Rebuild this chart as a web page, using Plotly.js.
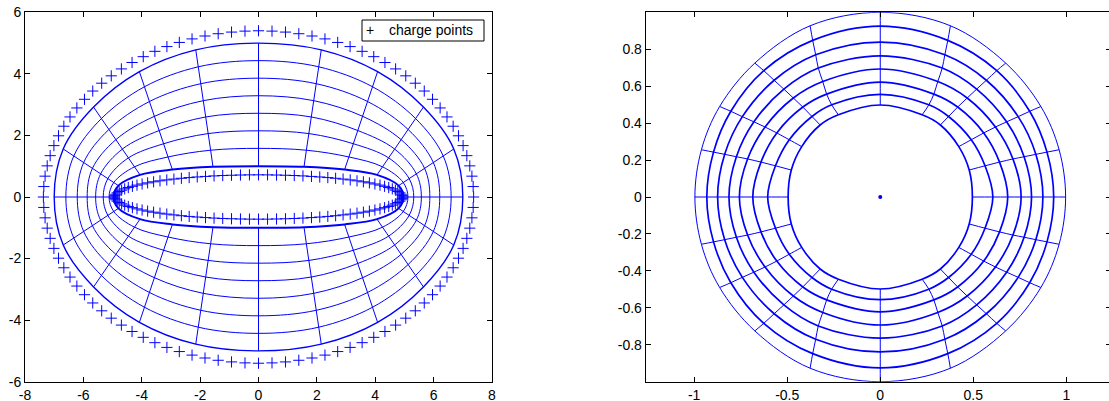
<!DOCTYPE html>
<html><head><meta charset="utf-8">
<script src="https://cdn.plot.ly/plotly-3.0.1.min.js"></script>
<style>html,body{margin:0;padding:0;background:#fff;overflow:hidden}#chart{width:1111px;height:401px}</style>
</head><body><div id="chart"></div>
<script>
// ---------- data (first quadrant; figure is symmetric in x and y) ----------
// Left panel grid nodes: rows = level curves (outer boundary -> inner boundary),
// columns = rays (on +x axis -> on +y axis)
const leftNodes = [
  [[7.00,0],[6.69,1.56],[5.65,2.92],[4.08,4.07],[2.15,4.78],[0,5.00]],
  [[6.60,0],[6.33,1.33],[5.38,2.55],[3.91,3.58],[2.06,4.23],[0,4.43]],
  [[6.21,0],[5.99,1.12],[5.13,2.19],[3.74,3.10],[1.98,3.68],[0,3.86]],
  [[5.87,0],[5.69,0.93],[4.89,1.86],[3.57,2.62],[1.89,3.13],[0,3.29]],
  [[5.58,0],[5.41,0.75],[4.66,1.56],[3.40,2.16],[1.81,2.60],[0,2.72]],
  [[5.32,0],[5.16,0.60],[4.46,1.27],[3.25,1.73],[1.73,2.06],[0,2.15]],
  [[5.12,0],[4.96,0.47],[4.25,0.98],[3.10,1.30],[1.64,1.52],[0,1.58]],
  [[4.97,0],[4.80,0.37],[4.06,0.72],[2.95,0.89],[1.56,0.98],[0,1.00]]
];
// Right panel grid nodes (image of the left grid), same row/column order
const rightNodes = [
  [[0.996,0],[0.961,0.256],[0.863,0.490],[0.674,0.725],[0.377,0.927],[0,1.000]],
  [[0.932,0],[0.896,0.243],[0.803,0.464],[0.626,0.684],[0.363,0.848],[0,0.925]],
  [[0.874,0],[0.836,0.231],[0.741,0.435],[0.570,0.632],[0.347,0.770],[0,0.839]],
  [[0.813,0],[0.773,0.218],[0.679,0.407],[0.518,0.584],[0.333,0.698],[0,0.764]],
  [[0.757,0],[0.713,0.206],[0.619,0.379],[0.467,0.536],[0.309,0.625],[0,0.693]],
  [[0.685,0],[0.641,0.189],[0.556,0.347],[0.416,0.487],[0.288,0.557],[0,0.622]],
  [[0.605,0],[0.563,0.169],[0.489,0.310],[0.367,0.436],[0.261,0.499],[0,0.556]],
  [[0.495,0],[0.478,0.146],[0.422,0.273],[0.323,0.390],[0.225,0.445],[0,0.498]]
];
// Charge points (first quadrant, from +x axis to +y axis)
const chargeOuterX = [7.37,7.355,7.312,7.239,7.138,7.009,6.852,6.669,6.458,6.223,5.962,5.679,5.372,5.045,4.698,4.332,3.949,3.550,3.138,2.713,2.277,1.833,1.381,0.924,0.463,0];
const chargeOuterY = [0,0.339,0.677,1.012,1.343,1.669,1.988,2.299,2.601,2.893,3.174,3.442,3.697,3.936,4.161,4.369,4.559,4.732,4.886,5.021,5.136,5.230,5.304,5.357,5.389,5.40];
const chargeInnerX = [4.93,4.920,4.891,4.843,4.775,4.689,4.584,4.461,4.320,4.163,3.988,3.799,3.594,3.375,3.142,2.898,2.642,2.375,2.099,1.815,1.523,1.226,0.924,0.618,0.310,0];
const chargeInnerY = [0,0.045,0.090,0.135,0.179,0.222,0.265,0.307,0.347,0.386,0.423,0.459,0.493,0.525,0.555,0.582,0.608,0.631,0.651,0.669,0.685,0.697,0.707,0.714,0.719,0.72];
const centerPoint = [0,0];
const legendLabel = 'charge points';
const legendSymbol = '+';
// Tick labels
const xTicksL = [-8,-6,-4,-2,0,2,4,6,8];
const xTickTextL = ['-8','-6','-4','-2','0','2','4','6','8'];
const yTicksL = [-6,-4,-2,0,2,4,6];
const yTickTextL = ['-6','-4','-2','0','2','4','6'];
const xTicksR = [-1,-0.5,0,0.5,1];
const xTickTextR = ['-1','-0.5','0','0.5','1'];
const yTicksR = [-0.8,-0.6,-0.4,-0.2,0,0.2,0.4,0.6,0.8];
const yTickTextR = ['-0.8','-0.6','-0.4','-0.2','0','0.2','0.4','0.6','0.8'];

// ---------- build traces ----------
const BLUE = '#0000ff';
function loopFromQuadrant(q){
  const pts = [];
  for (let j=q.length-1;j>=0;j--) pts.push([q[j][0], q[j][1]]);
  for (let j=1;j<q.length;j++) pts.push([q[j][0], -q[j][1]]);
  for (let j=q.length-2;j>=0;j--) pts.push([-q[j][0], -q[j][1]]);
  for (let j=1;j<q.length;j++) pts.push([-q[j][0], q[j][1]]);
  return pts;
}
function mirrorsOf(pts){
  const out = [[1,1]];
  const allX0 = pts.every(p=>p[0]===0), allY0 = pts.every(p=>p[1]===0);
  if (!allX0) out.push([-1,1]);
  if (!allY0) out.push([1,-1]);
  if (!allX0 && !allY0) out.push([-1,-1]);
  return out.map(s=>pts.map(p=>[s[0]*p[0], s[1]*p[1]]));
}
const traces = [];
function addGrid(nodes, xa, ya, levelWidth, rayShape){
  nodes.forEach((lev,i)=>{
    const pts = loopFromQuadrant(lev);
    traces.push({type:'scatter',mode:'lines',xaxis:xa,yaxis:ya,showlegend:false,hoverinfo:'skip',
      x:pts.map(p=>p[0]),y:pts.map(p=>p[1]),
      line:{color:BLUE,width:levelWidth(i),shape:'spline',smoothing:1}});
  });
  const nRays = nodes[0].length;
  for (let j=0;j<nRays;j++){
    const ray = nodes.map(lev=>lev[j]);
    mirrorsOf(ray).forEach(r=>{
      traces.push({type:'scatter',mode:'lines',xaxis:xa,yaxis:ya,showlegend:false,hoverinfo:'skip',
        x:r.map(p=>p[0]),y:r.map(p=>p[1]),line:{color:BLUE,width:1,shape:rayShape}});
    });
  }
}
addGrid(leftNodes,'x','y',i=> i===0?1.4:(i===leftNodes.length-1?2:1),'linear');
addGrid(rightNodes,'x2','y2',i=> i===0?1:1.7,'spline');

// charge points
const cx=[], cy=[];
[[chargeOuterX,chargeOuterY],[chargeInnerX,chargeInnerY]].forEach(([X,Y])=>{
  X.forEach((x,k)=>{
    const y=Y[k];
    const variants=[[x,y]];
    if (x!==0) variants.push([-x,y]);
    if (y!==0) variants.push([x,-y]);
    if (x!==0 && y!==0) variants.push([-x,-y]);
    variants.forEach(v=>{cx.push(v[0]);cy.push(v[1]);});
  });
});
traces.push({type:'scatter',mode:'markers',xaxis:'x',yaxis:'y',name:legendLabel,showlegend:false,hoverinfo:'skip',
  x:cx,y:cy,marker:{symbol:'cross-thin',size:8,color:BLUE,line:{color:BLUE,width:1}}});
traces.push({type:'scatter',mode:'markers',xaxis:'x2',yaxis:'y2',showlegend:false,hoverinfo:'skip',
  x:[centerPoint[0]],y:[centerPoint[1]],marker:{symbol:'circle',size:4,color:BLUE}});

const W=1111,H=401;
const FAM='"Liberation Sans", Arial, Helvetica, sans-serif';
const tickFont = {family:FAM, size:14, color:'#000'};
function ax(extra){
  return Object.assign({showline:true,linecolor:'#000',linewidth:1,mirror:'ticks',ticks:'inside',
    ticklen:5,tickcolor:'#000',tickwidth:1,showgrid:false,zeroline:false,
    tickfont:{family:FAM,size:14,color:'#000'},
    tickmode:'array',fixedrange:true},extra);
}
const yDom=[(H-381.7)/H,(H-12.3)/H];
// MATLAB-style legend box (upper right of the left axes)
const legBox = {l:362, r:484, t:20, b:41};
const layout = {
  width:W,height:H,margin:{l:0,r:0,t:0,b:0},paper_bgcolor:'#fff',plot_bgcolor:'#fff',
  showlegend:false,
  font:tickFont,
  xaxis: ax({domain:[25/W,492/W],range:[-8,8],tickvals:xTicksL,ticktext:xTickTextL,anchor:'y'}),
  yaxis: ax({domain:yDom,range:[-6,6],tickvals:yTicksL,ticktext:yTickTextL,anchor:'x'}),
  xaxis2: ax({domain:[645.7/W,1],range:[-1.2604,1.2399],tickvals:xTicksR,ticktext:xTickTextR,anchor:'y2'}),
  yaxis2: ax({domain:yDom,range:[-1,1],tickvals:yTicksR,ticktext:yTickTextR,anchor:'x2'}),
  shapes:[{type:'rect',xref:'paper',yref:'paper',layer:'above',
    x0:legBox.l/W,x1:legBox.r/W,y0:(H-legBox.b)/H,y1:(H-legBox.t)/H,
    line:{color:'#000',width:1},fillcolor:'#fff'}],
  annotations:[
    {xref:'paper',yref:'paper',x:370/W,y:(H-(legBox.t+legBox.b)/2)/H,xanchor:'center',yanchor:'middle',
     text:legendSymbol,showarrow:false,font:{family:FAM,size:14,color:'#000'}},
    {xref:'paper',yref:'paper',x:387/W,y:(H-(legBox.t+legBox.b)/2)/H,xanchor:'left',yanchor:'middle',
     text:legendLabel,showarrow:false,font:{family:FAM,size:14,color:'#000'}}
  ]
};
Plotly.newPlot('chart',traces,layout,{staticPlot:true,displayModeBar:false});
</script></body></html>
